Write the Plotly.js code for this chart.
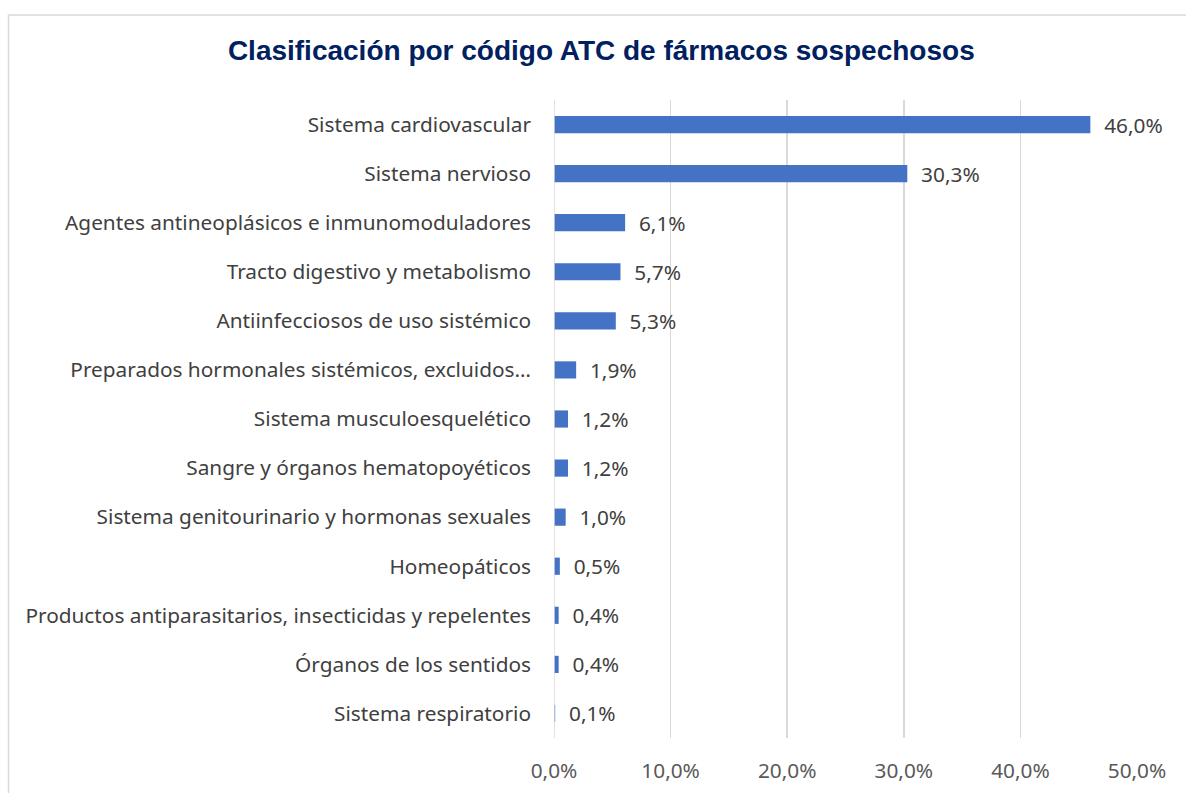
<!DOCTYPE html>
<html>
<head>
<meta charset="utf-8">
<script src="https://cdn.plot.ly/plotly-3.0.1.min.js"></script>
<style>html,body{margin:0;padding:0;background:#fff;}#chart{width:1186px;height:793px;}</style>
</head>
<body>
<div id="chart"></div>
<script>
const categories = [
  "Sistema cardiovascular",
  "Sistema nervioso",
  "Agentes antineoplásicos e inmunomoduladores",
  "Tracto digestivo y metabolismo",
  "Antiinfecciosos de uso sistémico",
  "Preparados hormonales sistémicos, excluidos…",
  "Sistema musculoesquelético",
  "Sangre y órganos hematopoyéticos",
  "Sistema genitourinario y hormonas sexuales",
  "Homeopáticos",
  "Productos antiparasitarios, insecticidas y repelentes",
  "Órganos de los sentidos",
  "Sistema respiratorio"
];
const percentages = [46.0, 30.3, 6.1, 5.7, 5.3, 1.9, 1.2, 1.2, 1.0, 0.5, 0.4, 0.4, 0.1];
const xTicks = [0, 10, 20, 30, 40, 50];
const chartTitle = "Clasificación por código ATC de fármacos sospechosos";

const FONT = "Noto Sans, Open Sans, sans-serif";

const trace = {
  type: "bar",
  orientation: "h",
  y: categories,
  x: percentages,
  width: 0.35,
  marker: {color: "#4472C4"},
  texttemplate: "\u00a0\u00a0%{x:.1f}%",
  textposition: "outside",
  constraintext: "none",
  cliponaxis: false,
  textfont: {family: FONT, size: 20.8, color: "#404040"},
  hoverinfo: "skip"
};

const layout = {
  width: 1186, height: 793,
  margin: {l: 554, r: 49, t: 100, b: 55},
  paper_bgcolor: "#ffffff",
  plot_bgcolor: "#ffffff",
  separators: ",.",
  showlegend: false,
  font: {family: FONT, size: 20.8, color: "#404040"},
  title: {
    text: chartTitle,
    font: {family: "Liberation Sans, Arial, sans-serif", size: 28, color: "#002060", weight: "bold"},
    x: 0.507, xref: "container", xanchor: "center",
    y: 0.937, yref: "container", yanchor: "middle"
  },
  xaxis: {
    range: [0, 50],
    tickvals: xTicks,
    ticktext: xTicks.map(v => v.toFixed(1).replace(".", ",") + "%"),
    showgrid: true, gridcolor: "#D9D9D9", gridwidth: 1.5,
    zeroline: false, showline: false, ticks: "",
    ticklabelstandoff: 18,
    tickfont: {size: 20.8, color: "#595959"},
    fixedrange: true
  },
  yaxis: {
    autorange: "reversed",
    type: "category",
    showgrid: false, zeroline: false, showline: false, ticks: "",
    ticklabelstandoff: 22,
    tickfont: {size: 20.8, color: "#404040"},
    fixedrange: true
  },
  shapes: [
    {type: "line", xref: "x", yref: "paper", x0: 0, x1: 0, y0: 0, y1: 1,
     line: {color: "#D9D9D9", width: 1.5}, layer: "above"},
    {type: "rect", xref: "paper", yref: "paper",
     x0: -0.9357, x1: 1.3, y0: -0.3, y1: 1.1334,
     line: {color: "#D9D9D9", width: 1.5}, fillcolor: "rgba(0,0,0,0)", layer: "below"}
  ]
};

Plotly.newPlot("chart", [trace], layout, {displayModeBar: false, staticPlot: true});
</script>
</body>
</html>
